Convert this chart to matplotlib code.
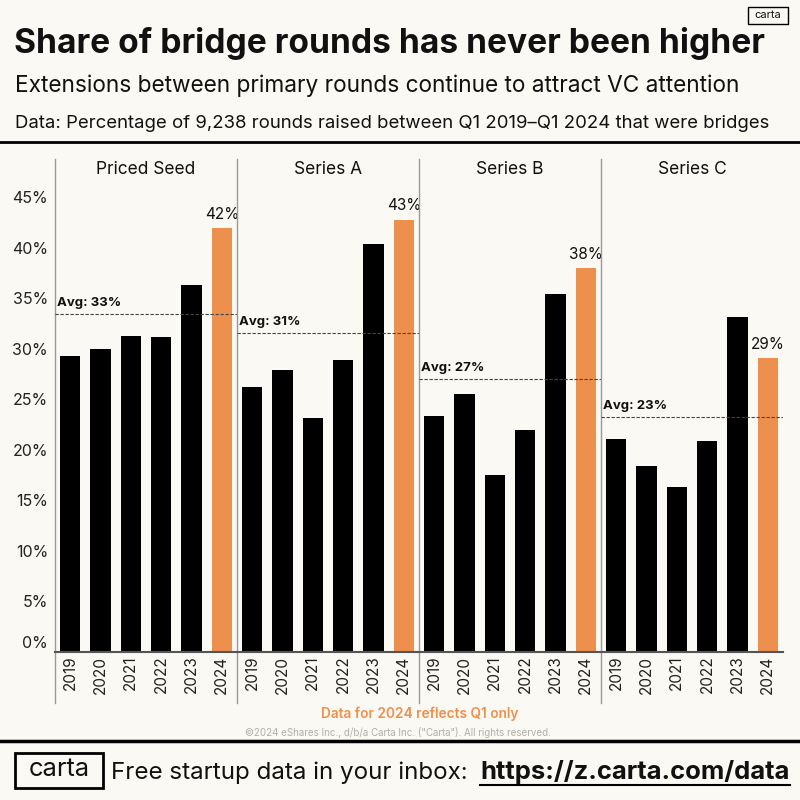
import matplotlib
matplotlib.use('Agg')
import matplotlib.pyplot as plt
from matplotlib.patches import Rectangle
from matplotlib.lines import Line2D

plt.rcParams['font.family'] = ['Inter', 'DejaVu Sans']

# data (percent of rounds that were bridges)
years = ['2019', '2020', '2021', '2022', '2023', '2024']
stages = ['Priced Seed', 'Series A', 'Series B', 'Series C']
seed = [29.3, 30.0, 31.3, 31.2, 36.3, 42.0]
series_a = [26.2, 27.9, 23.1, 28.9, 40.4, 42.8]
series_b = [23.3, 25.5, 17.5, 21.9, 35.4, 38.0]
series_c = [21.1, 18.4, 16.3, 20.9, 33.1, 29.1]
averages = [33.4, 31.6, 27.0, 23.2]
avg_labels = ['33%', '31%', '27%', '23%']
yticks = [0, 5, 10, 15, 20, 25, 30, 35, 40, 45]

bg = '#FBF9F4'
orange = '#EE904D'
ink = '#111111'

W = H = 800
fig = plt.figure(figsize=(8, 8), dpi=100, facecolor=bg)


def px(x, y):
    return x / W, 1 - y / H


def fit_width(t, width):
    # scale font so the text spans the width seen in the reference
    r = fig.canvas.get_renderer()
    w = t.get_window_extent(r).width
    t.set_fontsize(t.get_fontsize() * width / w)
    return t


# header
fit_width(fig.text(*px(14, 53), 'Share of bridge rounds has never been higher',
                   fontsize=25, weight='bold', color=ink, va='baseline'), 748)
fit_width(fig.text(*px(15, 92), 'Extensions between primary rounds continue to attract VC attention',
                   fontsize=14, color=ink, va='baseline'), 727)
fit_width(fig.text(*px(15, 128), 'Data: Percentage of 9,238 rounds raised between Q1 2019\u2013Q1 2024 that were bridges',
                   fontsize=12, color=ink, va='baseline'), 755)
fig.add_artist(Line2D([0, 1], [1 - 142 / H] * 2, transform=fig.transFigure, color='black', lw=2))

# small logo box top right
fig.add_artist(Rectangle(px(748, 24), 40 / W, 17 / H, transform=fig.transFigure,
                         facecolor='none', edgecolor='black', lw=1))
fig.text(*px(768, 15.5), 'carta', fontsize=8, ha='center', va='center', color=ink)

# panels
series = [seed, series_a, series_b, series_c]
base_y = 651.5
top_y = 159
ymax = 48.8
for i, (name, vals) in enumerate(zip(stages, series)):
    ax = fig.add_axes([(55 + i * 182) / W, 1 - base_y / H, 182 / W, (base_y - top_y) / H])
    ax.set_facecolor('none')
    colors = ['black'] * 5 + [orange]
    ax.bar(range(len(years)), vals, width=0.68, color=colors)
    ax.set_xlim(-0.5, 5.5)
    ax.set_ylim(0, ymax)
    for s in ['top', 'right', 'left']:
        ax.spines[s].set_visible(False)
    ax.spines['bottom'].set_color('#555555')
    ax.spines['bottom'].set_linewidth(1.5)
    ax.axvline(-0.5, ymin=-(703 - base_y) / (base_y - top_y), ymax=1, color='#9a9a9a',
               lw=1, clip_on=False)

    ax.set_xticks(range(len(years)), years, rotation=90, fontsize=11, color='#222222')
    ax.tick_params(axis='x', length=0, pad=3)
    if i == 0:
        ax.set_yticks(yticks, [f'{v}%' for v in yticks], fontsize=11.5, color='#222222')
        ax.get_yticklabels()[0].set_va('bottom')
    else:
        ax.set_yticks(yticks, [''] * len(yticks))
    ax.tick_params(axis='y', length=0, pad=5)

    ax.axhline(averages[i], color='#444444', lw=0.8, ls=(0, (3, 1.5)))
    ax.text(-0.45, averages[i] + 0.5, f'Avg: {avg_labels[i]}', fontsize=9.5,
            weight='bold', color=ink, va='bottom', ha='left')
    ax.text(5, vals[-1] + 0.6, f'{round(vals[-1])}%', fontsize=11, color=ink,
            ha='center', va='bottom')
    ax.text(0.5, 1 - 10 / (base_y - top_y), name, transform=ax.transAxes,
            ha='center', va='center', fontsize=12.5, color=ink)

# footer notes
fit_width(fig.text(*px(420, 714), 'Data for 2024 reflects Q1 only', fontsize=9,
                   weight='semibold', color=orange, ha='center', va='center'), 197)
fit_width(fig.text(*px(398, 733), '\u00a92024 eShares Inc., d/b/a Carta Inc. ("Carta"). All rights reserved.',
                   fontsize=6, color='#b3afa8', ha='center', va='center'), 305)
fig.add_artist(Line2D([0, 1], [1 - 741 / H] * 2, transform=fig.transFigure, color='black', lw=2.5))

# bottom banner
fig.add_artist(Rectangle(px(15, 788), 88 / W, 35 / H, transform=fig.transFigure,
                         facecolor='none', edgecolor='black', lw=2))
fit_width(fig.text(*px(59, 770), 'carta', fontsize=16, ha='center', va='center', color=ink), 61)
fit_width(fig.text(*px(111, 779), 'Free startup data in your inbox:', fontsize=16,
                   color=ink, va='baseline'), 358)
fit_width(fig.text(*px(480, 779), 'https://z.carta.com/data', fontsize=16, weight='bold',
                   color=ink, va='baseline'), 310)
fig.add_artist(Line2D([480 / W, 790 / W], [1 - 785 / H] * 2, transform=fig.transFigure,
                      color='black', lw=1.5))

fig.savefig('out.png', dpi=100, facecolor=bg)
